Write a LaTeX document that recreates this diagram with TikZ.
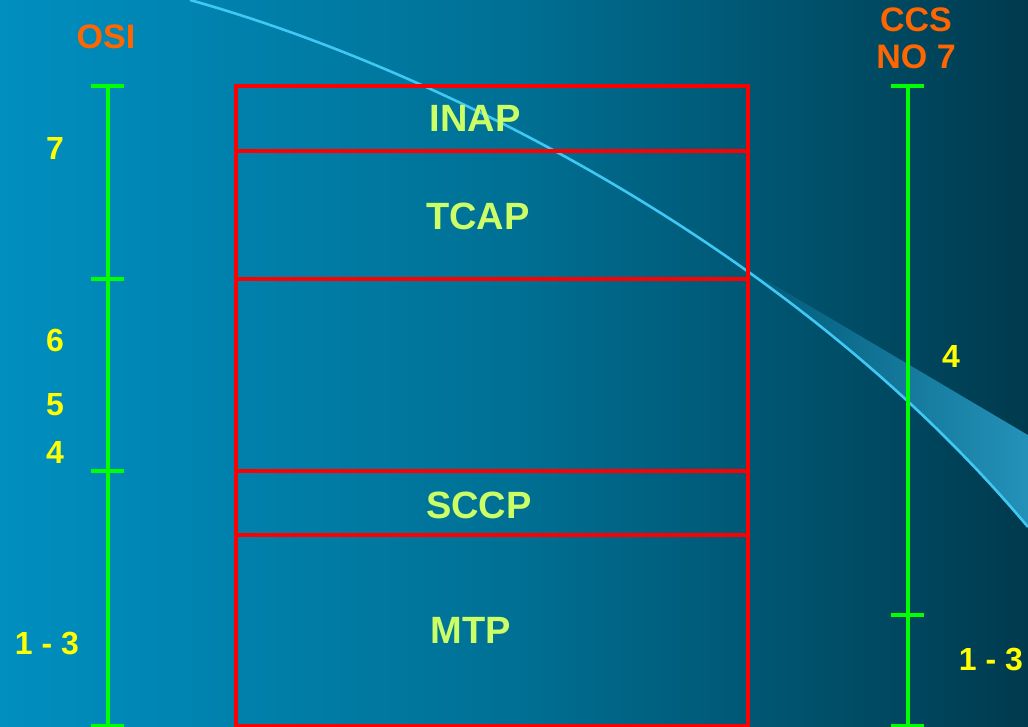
\documentclass[tikz,border=0pt]{standalone}
\usepackage{fontspec}
\setmainfont{Liberation Sans}
\definecolor{bgleft}{RGB}{0,143,192}
\definecolor{bgmid}{RGB}{0,112,148}
\definecolor{bgright}{RGB}{0,58,78}
\definecolor{swoosh}{RGB}{64,200,245}
\definecolor{wedgeleft}{RGB}{0,88,118}
\definecolor{wedgeright}{RGB}{40,152,192}
\definecolor{scalegreen}{RGB}{0,255,0}
\definecolor{stackred}{RGB}{255,0,0}
\definecolor{headorange}{RGB}{255,102,0}
\definecolor{numyellow}{RGB}{255,255,0}
\definecolor{layerlime}{RGB}{204,255,102}
\begin{document}
\begin{tikzpicture}[x=1pt,y=-1pt,
  scaleline/.style={draw=scalegreen, line width=3.6pt},
  stackline/.style={draw=stackred, line width=3.6pt},
  head/.style={text=headorange, font=\fontsize{34}{37}\selectfont\bfseries, inner sep=0pt},
  levelnum/.style={text=numyellow, font=\fontsize{32}{36}\selectfont\bfseries, inner sep=0pt},
  layername/.style={text=layerlime, font=\fontsize{38}{42}\selectfont\bfseries, inner sep=0pt}]
\useasboundingbox (0,0) rectangle (1028,727);
\clip (0,0) rectangle (1028,727);

% background
\shade[left color=bgleft, right color=bgright, middle color=bgmid] (0,0) rectangle (1028,727);

% light sweep: wedge under the curve
\begin{scope}
  \clip (190,0) .. controls (430,67.2) and (788,241.4) .. (1028,527)
        -- (1100,600) -- (1100,-50) -- (190,-50) -- cycle;
  \shade[left color=wedgeleft, right color=wedgeright]
        (742,266) -- (1060,454) -- (1060,760) -- (742,760) -- cycle;
\end{scope}
\draw[swoosh, line width=2.6pt]
  (190,0) .. controls (430,67.2) and (788,241.4) .. (1028,527);

% protocol stack
\draw[stackline] (236,86) rectangle (748,726);
\draw[stackline] (236,151) -- (748,151);
\draw[stackline] (236,279) -- (748,279);
\draw[stackline] (236,471) -- (748,471);
\draw[stackline] (236,535) -- (748,535);

\node[layername] (inap) at (475,118) {INAP};
\node[layername] (tcap) at (478,216) {TCAP};
\node[layername] (sccp) at (479,505) {SCCP};
\node[layername] (mtp)  at (471,630) {MTP};

% OSI scale
\draw[scaleline] (108,86) -- (108,727);
\foreach \y in {86,279,471,726}
  \draw[scaleline] (91,\y) -- (124,\y);
\node[head] (osi) at (106,37) {OSI};
\node[levelnum] (osi7) at (55,148) {7};
\node[levelnum] (osi6) at (55,340) {6};
\node[levelnum] (osi5) at (55,405) {5};
\node[levelnum] (osi4) at (55,452) {4};
\node[levelnum] (osi13) at (47,644) {1 - 3};

% CCS No 7 scale
\draw[scaleline] (908,86) -- (908,727);
\foreach \y in {86,615,726}
  \draw[scaleline] (891,\y) -- (924,\y);
\node[head] (ccs) at (916,20) {CCS};
\node[head] (no7) at (916,57) {NO 7};
\node[levelnum] (ccs4) at (951,356) {4};
\node[levelnum] (ccs13) at (991,660) {1 - 3};
\end{tikzpicture}
\end{document}
